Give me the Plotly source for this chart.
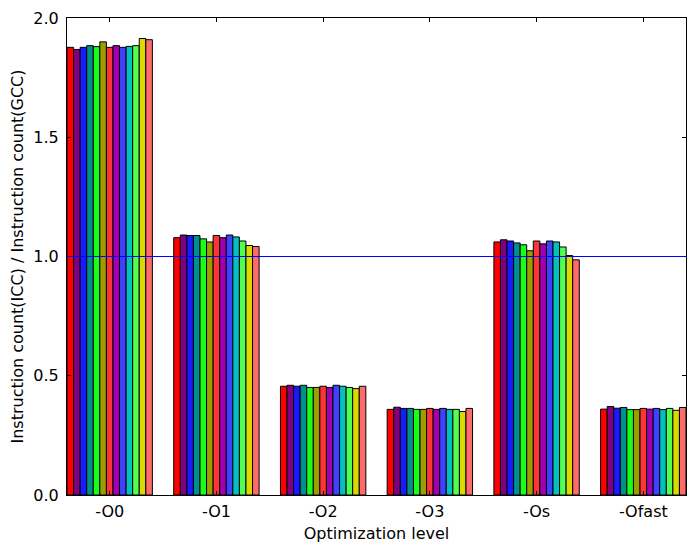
import plotly.graph_objects as go

levels = ["-O0", "-O1", "-O2", "-O3", "-Os", "-Ofast"]

ratio_O0 = [1.877, 1.868, 1.877, 1.884, 1.880, 1.900, 1.877, 1.884, 1.877, 1.881, 1.884, 1.914, 1.909]
ratio_O1 = [1.079, 1.090, 1.088, 1.088, 1.074, 1.061, 1.088, 1.079, 1.090, 1.082, 1.065, 1.046, 1.042]
ratio_O2 = [0.456, 0.460, 0.456, 0.460, 0.451, 0.451, 0.456, 0.451, 0.460, 0.456, 0.451, 0.446, 0.456]
ratio_O3 = [0.359, 0.368, 0.363, 0.363, 0.359, 0.359, 0.363, 0.359, 0.363, 0.359, 0.359, 0.350, 0.363]
ratio_Os = [1.061, 1.070, 1.065, 1.057, 1.049, 1.024, 1.065, 1.053, 1.065, 1.061, 1.040, 1.004, 0.986]
ratio_Ofast = [0.360, 0.371, 0.364, 0.367, 0.358, 0.358, 0.363, 0.360, 0.363, 0.358, 0.363, 0.355, 0.367]

groups = [ratio_O0, ratio_O1, ratio_O2, ratio_O3, ratio_Os, ratio_Ofast]

colors = ["#ff0000", "#800080", "#1a1aff", "#008f8f", "#1aff1a", "#9d9d00", "#ff3535",
          "#a000b0", "#4040ff", "#00c0c0", "#50ff50", "#dada00", "#ff6a6a"]

baseline = 1.0

fig = go.Figure()
for i, c in enumerate(colors):
    fig.add_trace(go.Bar(
        x=list(range(len(levels))),
        y=[g[i] for g in groups],
        marker=dict(color=c, line=dict(color="black", width=1)),
        name=f"series {i+1}",
        showlegend=False,
    ))

fig.add_hline(y=baseline, line=dict(color="#0000ff", width=1))

font = dict(family="DejaVu Sans", size=16, color="black")
fig.update_layout(
    width=696, height=553,
    margin=dict(l=67, r=9, t=16, b=58),
    plot_bgcolor="white", paper_bgcolor="white",
    barmode="group", bargap=0.2, bargroupgap=0,
    font=font,
)
fig.update_xaxes(
    range=[-0.4, 5.4], tickvals=list(range(len(levels))), ticktext=levels,
    showgrid=False, zeroline=False, showline=True, linecolor="black", linewidth=1,
    mirror="ticks", ticks="inside", ticklen=4, tickcolor="black",
    title=dict(text="Optimization level", font=font, standoff=7),
    tickfont=font, ticklabelstandoff=2,
)
fig.update_yaxes(
    range=[0, 2.0], tickvals=[0, 0.5, 1.0, 1.5, 2.0], tickformat=".1f",
    showgrid=False, zeroline=False, showline=True, linecolor="black", linewidth=1,
    mirror="ticks", ticks="inside", ticklen=4, tickcolor="black",
    title=dict(text="Instruction count(ICC) / Instruction count(GCC)", font=font, standoff=5),
    tickfont=font, ticklabelstandoff=4,
)
fig.write_html("out.html")
